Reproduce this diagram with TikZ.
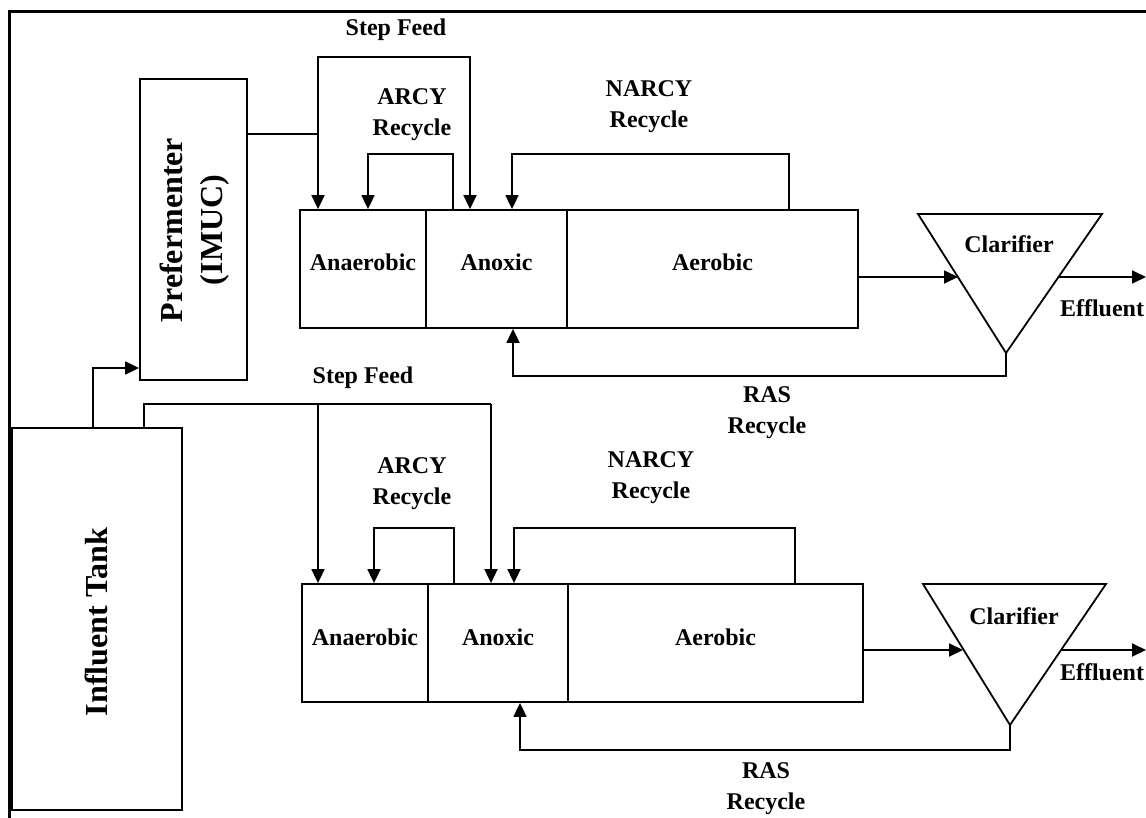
\documentclass[tikz,border=0pt]{standalone}
\usepackage{fontspec}
\setmainfont{Liberation Serif}
\usetikzlibrary{arrows.meta}
\begin{document}
\begin{tikzpicture}[x=1pt,y=-1pt,
  line/.style={line width=1.8pt},
  arr/.style={line width=1.8pt,-{Triangle[length=14pt,width=13pt]}},
  lbl/.style={font=\fontsize{24}{31}\selectfont\bfseries, align=center, inner sep=0pt},
  box/.style={draw, line width=1.8pt, inner sep=0pt, font=\fontsize{24}{31}\selectfont\bfseries, text height=16pt, text depth=12pt},
  big/.style={font=\fontsize{32}{40}\selectfont\bfseries, align=center, rotate=90, inner sep=0pt}]
\useasboundingbox (0,0) rectangle (1146,818);
% frame
\draw[line width=3pt] (9,818) -- (9,12) -- (1146,12);
% tanks
\node[box, minimum width=107pt, minimum height=301pt] (pre) at (193.5,229.5) {};
\node[big] (pretxt) at (195,230) {Prefermenter\\(IMUC)};
\node[box, minimum width=170pt, minimum height=382pt] (tank) at (97,619) {};
\node[big] (tanktxt) at (96,622) {Influent Tank};
% top train
\node[box, minimum width=126pt, minimum height=118pt] (an1) at (363,269) {Anaerobic};
\node[box, minimum width=141pt, minimum height=118pt] (ax1) at (496.5,269) {Anoxic};
\node[box, minimum width=291pt, minimum height=118pt] (ae1) at (712.5,269) {Aerobic};
\coordinate (c1l) at (918,214);
\coordinate (c1r) at (1102,214);
\coordinate (c1b) at (1006,353);
\draw[line, line join=miter] (c1l) -- (c1r) -- (c1b) -- cycle;
\node[lbl] (clar1) at (1009,244) {Clarifier};
% bottom train
\node[box, minimum width=126pt, minimum height=118pt] (an2) at (365,643) {Anaerobic};
\node[box, minimum width=140pt, minimum height=118pt] (ax2) at (498,643) {Anoxic};
\node[box, minimum width=295pt, minimum height=118pt] (ae2) at (715.5,643) {Aerobic};
\coordinate (c2l) at (923,584);
\coordinate (c2r) at (1106,584);
\coordinate (c2b) at (1010,725);
\draw[line, line join=miter] (c2l) -- (c2r) -- (c2b) -- cycle;
\node[lbl] (clar2) at (1014,616) {Clarifier};
% influent to prefermenter
\coordinate (ti) at (93,368);
\draw[arr] (ti |- tank.north) -- (ti) -- (ti -| pre.west);
% top step feed
\coordinate (sf1) at (318,134);
\coordinate (sfA) at (318,57);
\coordinate (sfB) at (470,57);
\draw[line] (pre.east |- sf1) -- (sf1);
\draw[arr] (sfB) -- (sfA) -- (sfA |- an1.north);
\draw[arr] (sfA) -- (sfB) -- (sfB |- ax1.north);
\node[lbl] (sftxt1) at (396,30) {Step Feed};
% top ARCY
\coordinate (arA) at (368,154);
\coordinate (arB) at (453,154);
\draw[arr] (arB |- ax1.north) -- (arB) -- (arA) -- (arA |- an1.north);
\node[lbl] (arcy1) at (412,115) {ARCY\\Recycle};
% top NARCY
\coordinate (naA) at (512,154);
\coordinate (naB) at (789,154);
\draw[arr] (naB |- ae1.north) -- (naB) -- (naA) -- (naA |- ax1.north);
\node[lbl] (narcy1) at (649,107) {NARCY\\Recycle};
% top to clarifier and effluent
\coordinate (in1) at (958,277);
\coordinate (ef1s) at (1058,277);
\coordinate (ef1e) at (1146,277);
\draw[arr] (ae1.east |- in1) -- (in1);
\draw[arr] (ef1s) -- (ef1e);
\node[lbl] (eff1) at (1102,308) {Effluent};
% top RAS
\coordinate (rA) at (1006,376);
\coordinate (rB) at (513,376);
\draw[arr] (c1b) -- (rA) -- (rB) -- (rB |- ax1.south);
\node[lbl] (ras1) at (767,413) {RAS\\Recycle};
% bottom step feed
\coordinate (sf2A) at (144,404);
\coordinate (sf2B) at (318,404);
\coordinate (sf2C) at (491,404);
\draw[line] (sf2A |- tank.north) -- (sf2A) -- (sf2C);
\draw[arr] (sf2B) -- (sf2B |- an2.north);
\draw[arr] (sf2C) -- (sf2C |- ax2.north);
\node[lbl] (sftxt2) at (363,378) {Step Feed};
% bottom ARCY
\coordinate (ar2A) at (374,528);
\coordinate (ar2B) at (454,528);
\draw[arr] (ar2B |- ax2.north) -- (ar2B) -- (ar2A) -- (ar2A |- an2.north);
\node[lbl] (arcy2) at (412,484) {ARCY\\Recycle};
% bottom NARCY
\coordinate (na2A) at (514,528);
\coordinate (na2B) at (795,528);
\draw[arr] (na2B |- ae2.north) -- (na2B) -- (na2A) -- (na2A |- ax2.north);
\node[lbl] (narcy2) at (651,478) {NARCY\\Recycle};
% bottom to clarifier and effluent
\coordinate (in2) at (963,650);
\coordinate (ef2s) at (1062,650);
\coordinate (ef2e) at (1146,650);
\draw[arr] (ae2.east |- in2) -- (in2);
\draw[arr] (ef2s) -- (ef2e);
\node[lbl] (eff2) at (1102,672) {Effluent};
% bottom RAS
\coordinate (r2A) at (1010,750);
\coordinate (r2B) at (520,750);
\draw[arr] (c2b) -- (r2A) -- (r2B) -- (r2B |- ax2.south);
\node[lbl] (ras2) at (766,789) {RAS\\Recycle};
\end{tikzpicture}
\end{document}
